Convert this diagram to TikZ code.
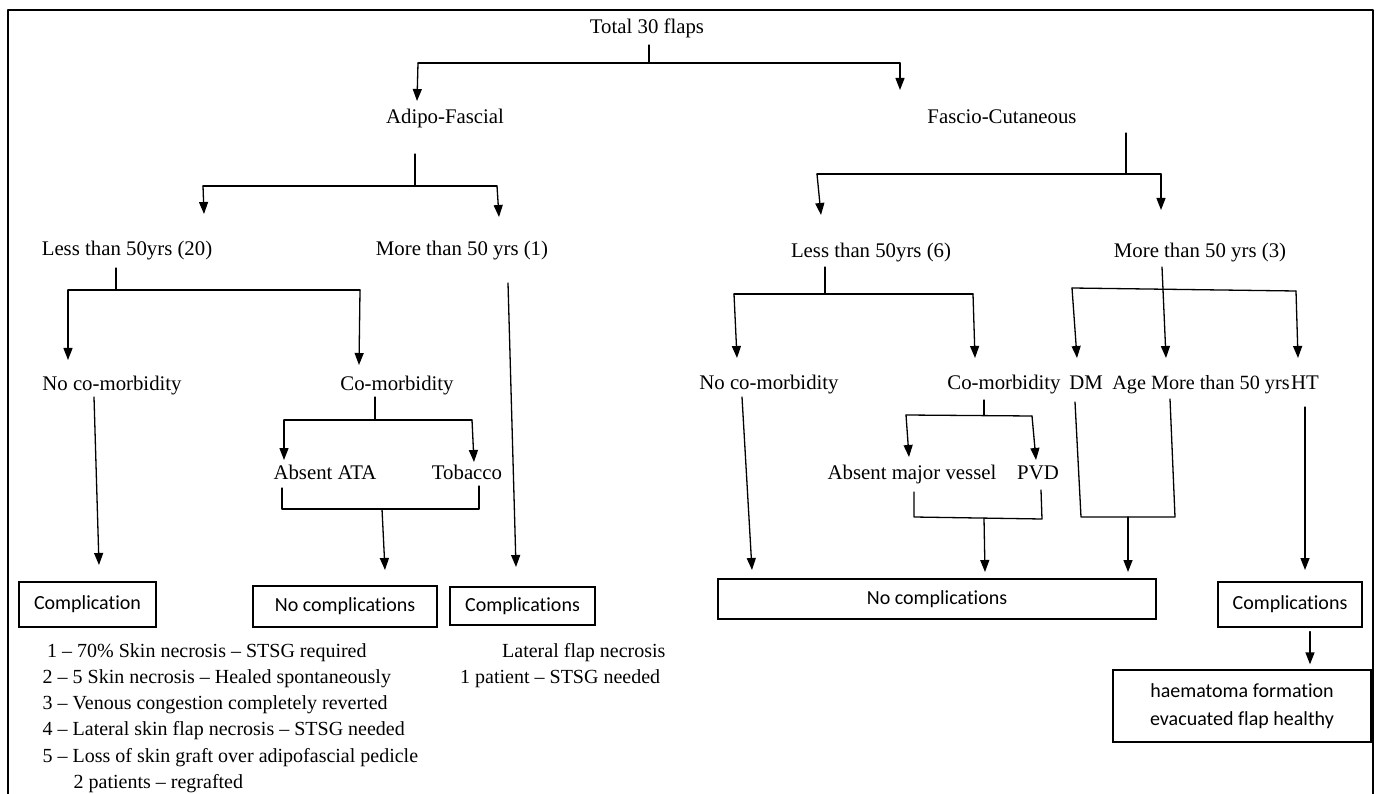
\documentclass[tikz,border=0pt]{standalone}
\usepackage{fontspec}
\setmainfont{Liberation Serif}
\newfontfamily\boxfont[Ligatures=NoCommon]{Carlito}
\usetikzlibrary{arrows.meta}
\begin{document}
\begin{tikzpicture}[x=1pt,y=-1pt,
  lbl/.style={font=\fontsize{20.8}{24}\selectfont, inner sep=0pt, text height=14pt, text depth=4.5pt},
  lst/.style={font=\fontsize{20}{24}\selectfont, inner sep=0pt, anchor=base west},
  bx/.style={draw, line width=1.3pt, font=\boxfont\fontsize{20}{28}\selectfont, inner sep=0pt, align=center},
  ln/.style={line width=1.3pt, line cap=round, line join=round},
  arr/.style={ln, -{Triangle[width=9pt,length=12pt]}}]
\useasboundingbox (0,0) rectangle (1379,794);
\fill[white] (0,0) rectangle (1379,794);
\draw[ln] (8,794) -- (8,10) -- (1373,10) -- (1373,794);

% ---------- labels ----------
\node[lbl] (total) at (647,29) {Total 30 flaps};
\node[lbl] (af) at (445,119) {Adipo-Fascial};
\node[lbl] (fc) at (1002,119) {Fascio-Cutaneous};
\node[lbl] (l20) at (127,251) {Less than 50yrs (20)};
\node[lbl] (m1) at (462,251) {More than 50 yrs (1)};
\node[lbl] (l6) at (871,253) {Less than 50yrs (6)};
\node[lbl] (m3) at (1200,253) {More than 50 yrs (3)};
\node[lbl] (ncmL) at (112,386) {No co-morbidity};
\node[lbl] (cmL) at (397,386) {Co-morbidity};
\node[lbl] (ata) at (325,475) {Absent ATA};
\node[lbl] (tob) at (467,475) {Tobacco};
\node[lbl] (ncmR) at (769,385) {No co-morbidity};
\node[lbl] (cmR) at (1004,385) {Co-morbidity};
\node[lbl] (dm) at (1086,385) {DM};
\node[lbl, font=\fontsize{20.2}{24}\selectfont] (age) at (1201,385) {Age More than 50 yrs};
\node[lbl] (ht) at (1305,385) {HT};
\node[lbl] (amv) at (912,475) {Absent major vessel};
\node[lbl] (pvd) at (1038,475) {PVD};

% ---------- boxes ----------
\node[bx, minimum width=137pt, minimum height=45pt] (cL) at (87.5,604.5) {Complication};
\node[bx, minimum width=184pt, minimum height=41pt] (ncL) at (345,606.5) {No complications};
\node[bx, minimum width=145pt, minimum height=38pt] (cM) at (522.5,606) {Complications};
\node[bx, minimum width=438pt, minimum height=40pt] (ncR) at (937,599) {No complications};
\node[bx, minimum width=144pt, minimum height=45pt] (cR) at (1290,604.5) {Complications};
\node[bx, minimum width=258pt, minimum height=72pt] (hm) at (1242,706) {haematoma formation\\evacuated flap healthy};

% ---------- lists ----------
\node[lst] (li1) at (47,657) {1 -- 70\% Skin necrosis -- STSG required};
\node[lst] (li2) at (42.5,683) {2 -- 5 Skin necrosis -- Healed spontaneously};
\node[lst] (li3) at (42.5,709.5) {3 -- Venous congestion completely reverted};
\node[lst] (li4) at (42.5,735.5) {4 -- Lateral skin flap necrosis -- STSG needed};
\node[lst] (li5) at (42.5,762) {5 -- Loss of skin graft over adipofascial pedicle};
\node[lst] (li6) at (73.5,788) {2 patients -- regrafted};
\node[lst] (lt1) at (502,657) {Lateral flap necrosis};
\node[lst] (lt2) at (460,683) {1 patient -- STSG needed};

% ---------- connector points ----------
\coordinate (tS) at (649,45); \coordinate (tJ) at (649,63);
\coordinate (tL) at (418,63); \coordinate (tR) at (900,63);
\coordinate (afT) at (417,101); \coordinate (fcT) at (900,90);

\coordinate (aS) at (415,154); \coordinate (aJ) at (415,186);
\coordinate (aL) at (203,186); \coordinate (aR) at (497,186);
\coordinate (l20T) at (204,214); \coordinate (m1T) at (499,217);

\coordinate (fS) at (1126,133); \coordinate (fJ) at (1126,174);
\coordinate (fL) at (817,174); \coordinate (fR) at (1161,174);
\coordinate (l6T) at (821,215); \coordinate (m3T) at (1161,210);

\coordinate (bS) at (116,268); \coordinate (bJ) at (116,290);
\coordinate (bL) at (68,290); \coordinate (bR) at (360,290);
\coordinate (ncmLT) at (68,360); \coordinate (cmLT) at (359,365);

\coordinate (m1S) at (508,283); \coordinate (cMT) at (516,567);
\coordinate (nS) at (94,397); \coordinate (cLT) at (99,565);

\coordinate (cS) at (375,397); \coordinate (cJ) at (375,420);
\coordinate (cLl) at (284,420); \coordinate (cRr) at (472,420);
\coordinate (ataT) at (284,460); \coordinate (tobT) at (474,462);
\coordinate (ataB) at (282,488); \coordinate (ataJ) at (282,509);
\coordinate (tobJ) at (479,509); \coordinate (tobB) at (479,486);
\coordinate (jm) at (382,509); \coordinate (ncLT) at (385,570);

\coordinate (dS) at (825,267); \coordinate (dJ) at (825,294);
\coordinate (dL) at (734,294); \coordinate (dR) at (973,294);
\coordinate (ncmRT) at (737,358); \coordinate (cmRT) at (975,358);

\coordinate (eS) at (1162,267);
\coordinate (eL) at (1072,288); \coordinate (eR) at (1296,291);
\coordinate (ageT) at (1166,358); \coordinate (dmT) at (1077,358); \coordinate (htT) at (1298,358);

\coordinate (pS) at (742,397); \coordinate (ncRT1) at (752,570);

\coordinate (gS) at (984,400); \coordinate (gJ) at (984,415);
\coordinate (gL) at (906,415); \coordinate (gR) at (1032,416);
\coordinate (amvT) at (909,457); \coordinate (pvdT) at (1036,460);
\coordinate (amvB) at (914,492); \coordinate (amvJ) at (914,517);
\coordinate (pvdJ) at (1042,519); \coordinate (pvdB) at (1041,490);
\coordinate (gm) at (984,518); \coordinate (ncRT2) at (985,572);

\coordinate (dmB) at (1075,402); \coordinate (dmJ) at (1081,517);
\coordinate (ageJ) at (1175,517); \coordinate (ageB) at (1170,399);
\coordinate (km) at (1128,517); \coordinate (ncRT3) at (1128,572);

\coordinate (htS) at (1305,407); \coordinate (cRT) at (1305,570);

% ---------- connectors ----------
\draw[ln] (tS) -- (tJ);
\draw[ln] (tL) -- (tR);
\draw[arr] (tL) -- (afT);
\draw[arr] (tR) -- (fcT);

\draw[ln] (aS) -- (aJ);
\draw[ln] (aL) -- (aR);
\draw[arr] (aL) -- (l20T);
\draw[arr] (aR) -- (m1T);

\draw[ln] (fS) -- (fJ);
\draw[ln] (fL) -- (fR);
\draw[arr] (fL) -- (l6T);
\draw[arr] (fR) -- (m3T);

\draw[ln] (bS) -- (bJ);
\draw[ln] (bL) -- (bR);
\draw[arr] (bL) -- (ncmLT);
\draw[arr] (bR) -- (cmLT);

\draw[arr] (m1S) -- (cMT);
\draw[arr] (nS) -- (cLT);

\draw[ln] (cS) -- (cJ);
\draw[ln] (cLl) -- (cRr);
\draw[arr] (cLl) -- (ataT);
\draw[arr] (cRr) -- (tobT);
\draw[ln] (ataB) -- (ataJ) -- (tobJ) -- (tobB);
\draw[arr] (jm) -- (ncLT);

\draw[ln] (dS) -- (dJ);
\draw[ln] (dL) -- (dR);
\draw[arr] (dL) -- (ncmRT);
\draw[arr] (dR) -- (cmRT);

\draw[arr] (eS) -- (ageT);
\draw[ln] (eL) -- (eR);
\draw[arr] (eL) -- (dmT);
\draw[arr] (eR) -- (htT);

\draw[arr] (pS) -- (ncRT1);

\draw[ln] (gS) -- (gJ);
\draw[ln] (gL) -- (gR);
\draw[arr] (gL) -- (amvT);
\draw[arr] (gR) -- (pvdT);
\draw[ln] (amvB) -- (amvJ) -- (pvdJ) -- (pvdB);
\draw[arr] (gm) -- (ncRT2);

\draw[ln] (dmB) -- (dmJ) -- (ageJ) -- (ageB);
\draw[arr] (km) -- (ncRT3);

\draw[arr] (htS) -- (cRT);

\draw[arr, shorten <=4pt, shorten >=5pt] ([xshift=20pt]cR.south) -- ([xshift=20pt]cR.south |- hm.north);
\end{tikzpicture}
\end{document}
